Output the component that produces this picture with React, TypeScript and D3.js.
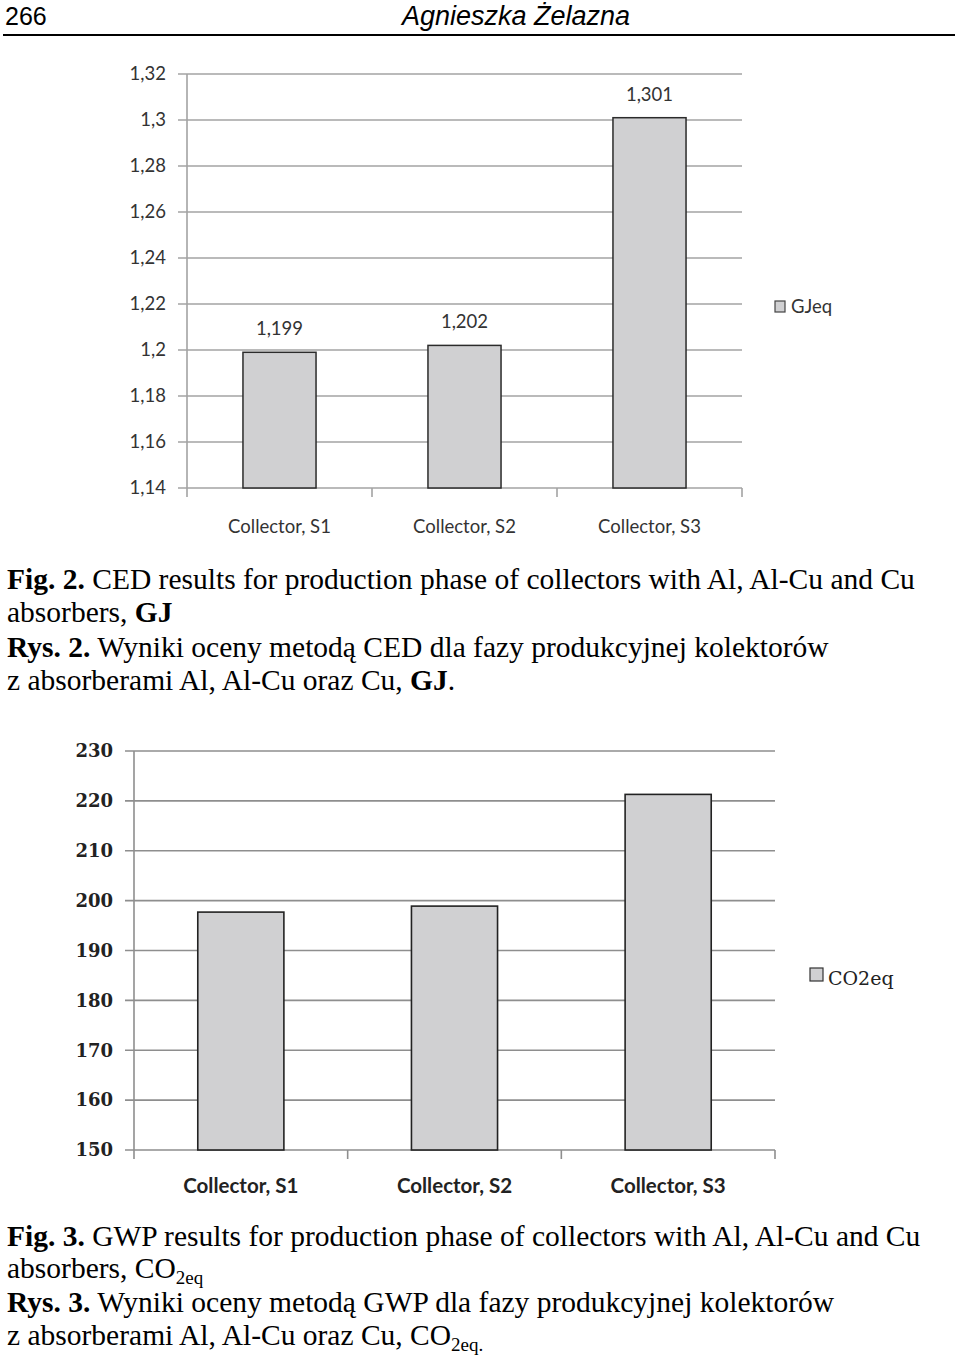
import React from 'react';
import * as d3 from 'd3';

const categories = ['Collector, S1', 'Collector, S2', 'Collector, S3'];
const cedValues = [1.199, 1.202, 1.301];
const cedLabels = ['1,199', '1,202', '1,301'];
const cedTicks = [1.14, 1.16, 1.18, 1.2, 1.22, 1.24, 1.26, 1.28, 1.3, 1.32];
const cedLegend = 'GJeq';
const gwpValues = [197.7, 198.9, 221.3];
const gwpTicks = [150, 160, 170, 180, 190, 200, 210, 220, 230];
const gwpLegend = 'CO2eq';

const W = 960;
const H = 1357;
const SERIF = '"Liberation Serif", "Times New Roman", serif';
const CAL = 'Lato, "Open Sans", sans-serif';
const fmtComma = (v: number) => String(+v.toFixed(2)).replace('.', ',');

function CedChart() {
  const x0 = 187, x1 = 742, yTop = 74, yBot = 488;
  const x = d3.scaleBand<string>().domain(categories).range([x0, x1]).padding(0);
  const y = d3.scaleLinear().domain([1.14, 1.32]).range([yBot, yTop]);
  const bw = x.bandwidth() * 0.395;
  const grid = '#a3a3a3';
  return (
    <g>
      {cedTicks.map((t) => (
        <g key={t}>
          <line x1={x0 - 9} x2={x1} y1={y(t)} y2={y(t)} stroke={grid} strokeWidth={1.6} />
          <text x={166} y={y(t)} dy="0.35em" textAnchor="end" fontFamily={CAL} fontSize={18.5} fill="#333">
            {fmtComma(t)}
          </text>
        </g>
      ))}
      <line x1={x0} x2={x0} y1={yTop} y2={yBot} stroke={grid} strokeWidth={1.6} />
      {[...categories.map((c) => x(c)!), x1].map((bx, i) => (
        <line key={i} x1={bx} x2={bx} y1={yBot} y2={yBot + 9} stroke={grid} strokeWidth={1.6} />
      ))}
      {categories.map((c, i) => {
        const cx = x(c)! + x.bandwidth() / 2;
        return (
          <g key={c}>
            <rect x={cx - bw / 2} y={y(cedValues[i])} width={bw} height={yBot - y(cedValues[i])}
              fill="#d0d0d2" stroke="#2b2b2b" strokeWidth={1.5} />
            <text x={cx} y={y(cedValues[i]) - 17} textAnchor="middle" fontFamily={CAL} fontSize={18.5} fill="#333">
              {cedLabels[i]}
            </text>
            <text x={cx} y={533} textAnchor="middle" fontFamily={CAL} fontSize={18.5} fill="#333">
              {c}
            </text>
          </g>
        );
      })}
      <rect x={775} y={301} width={10} height={11} fill="#d0d0d2" stroke="#444" strokeWidth={1.2} />
      <text x={791} y={313} fontFamily={CAL} fontSize={18.5} fill="#333">{cedLegend}</text>
    </g>
  );
}

function GwpChart() {
  const x0 = 134, x1 = 775, yTop = 751, yBot = 1150;
  const x = d3.scaleBand<string>().domain(categories).range([x0, x1]).padding(0);
  const y = d3.scaleLinear().domain([150, 230]).range([yBot, yTop]);
  const bw = x.bandwidth() * 0.403;
  const grid = '#8e8e8e';
  return (
    <g>
      {gwpTicks.map((t) => (
        <g key={t}>
          <line x1={x0 - 9} x2={x1} y1={y(t)} y2={y(t)} stroke={grid} strokeWidth={1.6} />
          <text x={113} y={y(t)} dy="0.35em" textAnchor="end" fontFamily='"DejaVu Serif", serif' fontWeight="bold" fontSize={18} fill="#222">
            {t}
          </text>
        </g>
      ))}
      <line x1={x0} x2={x0} y1={yTop} y2={yBot} stroke={grid} strokeWidth={1.6} />
      {[...categories.map((c) => x(c)!), x1].map((bx, i) => (
        <line key={i} x1={bx} x2={bx} y1={yBot} y2={yBot + 9} stroke={grid} strokeWidth={1.6} />
      ))}
      {categories.map((c, i) => {
        const cx = x(c)! + x.bandwidth() / 2;
        return (
          <g key={c}>
            <rect x={cx - bw / 2} y={y(gwpValues[i])} width={bw} height={yBot - y(gwpValues[i])}
              fill="#d0d0d2" stroke="#222" strokeWidth={1.6} />
            <text x={cx} y={1193} textAnchor="middle" fontFamily={CAL} fontWeight="bold" fontSize={20.5} fill="#222">
              {c}
            </text>
          </g>
        );
      })}
      <rect x={810} y={968} width={13} height={13} fill="#d0d0d2" stroke="#333" strokeWidth={1.2} />
      <text x={828} y={985} fontFamily='"DejaVu Serif", serif' fontSize={19} fill="#222">{gwpLegend}</text>
    </g>
  );
}

function Captions() {
  const fs = 29.5;
  return (
    <g fontFamily={SERIF} fontSize={fs} fill="#000">
      <text x={7} y={589}><tspan fontWeight="bold">Fig. 2.</tspan> CED results for production phase of collectors with Al, Al-Cu and Cu</text>
      <text x={7} y={622}>absorbers, <tspan fontWeight="bold">GJ</tspan></text>
      <text x={7} y={657}><tspan fontWeight="bold">Rys. 2.</tspan> Wyniki oceny metodą CED dla fazy produkcyjnej kolektorów</text>
      <text x={7} y={690}>z absorberami Al, Al-Cu oraz Cu, <tspan fontWeight="bold">GJ</tspan>.</text>

      <text x={7} y={1246}><tspan fontWeight="bold">Fig. 3.</tspan> GWP results for production phase of collectors with Al, Al-Cu and Cu</text>
      <text x={7} y={1278}>absorbers, CO<tspan fontSize={19} dy={6}>2eq</tspan></text>
      <text x={7} y={1312}><tspan fontWeight="bold">Rys. 3.</tspan> Wyniki oceny metodą GWP dla fazy produkcyjnej kolektorów</text>
      <text x={7} y={1345}>z absorberami Al, Al-Cu oraz Cu, CO<tspan fontSize={19} dy={6}>2eq.</tspan></text>
    </g>
  );
}

export default function App() {
  return (
    <svg width={W} height={H} viewBox={`0 0 ${W} ${H}`}
      style={{ position: 'absolute', left: 0, top: 0, background: '#fff', display: 'block' }}>
      <rect x={0} y={0} width={W} height={H} fill="#fff" />
      <text x={5} y={25} fontFamily='"Liberation Sans", Arial, sans-serif' fontSize={25} fill="#000">266</text>
      <text x={402} y={25} fontFamily='"Liberation Sans", Arial, sans-serif' fontStyle="italic" fontSize={27} fill="#000">Agnieszka Żelazna</text>
      <line x1={3} x2={955} y1={35} y2={35} stroke="#000" strokeWidth={2} />
      <CedChart />
      <GwpChart />
      <Captions />
    </svg>
  );
}
